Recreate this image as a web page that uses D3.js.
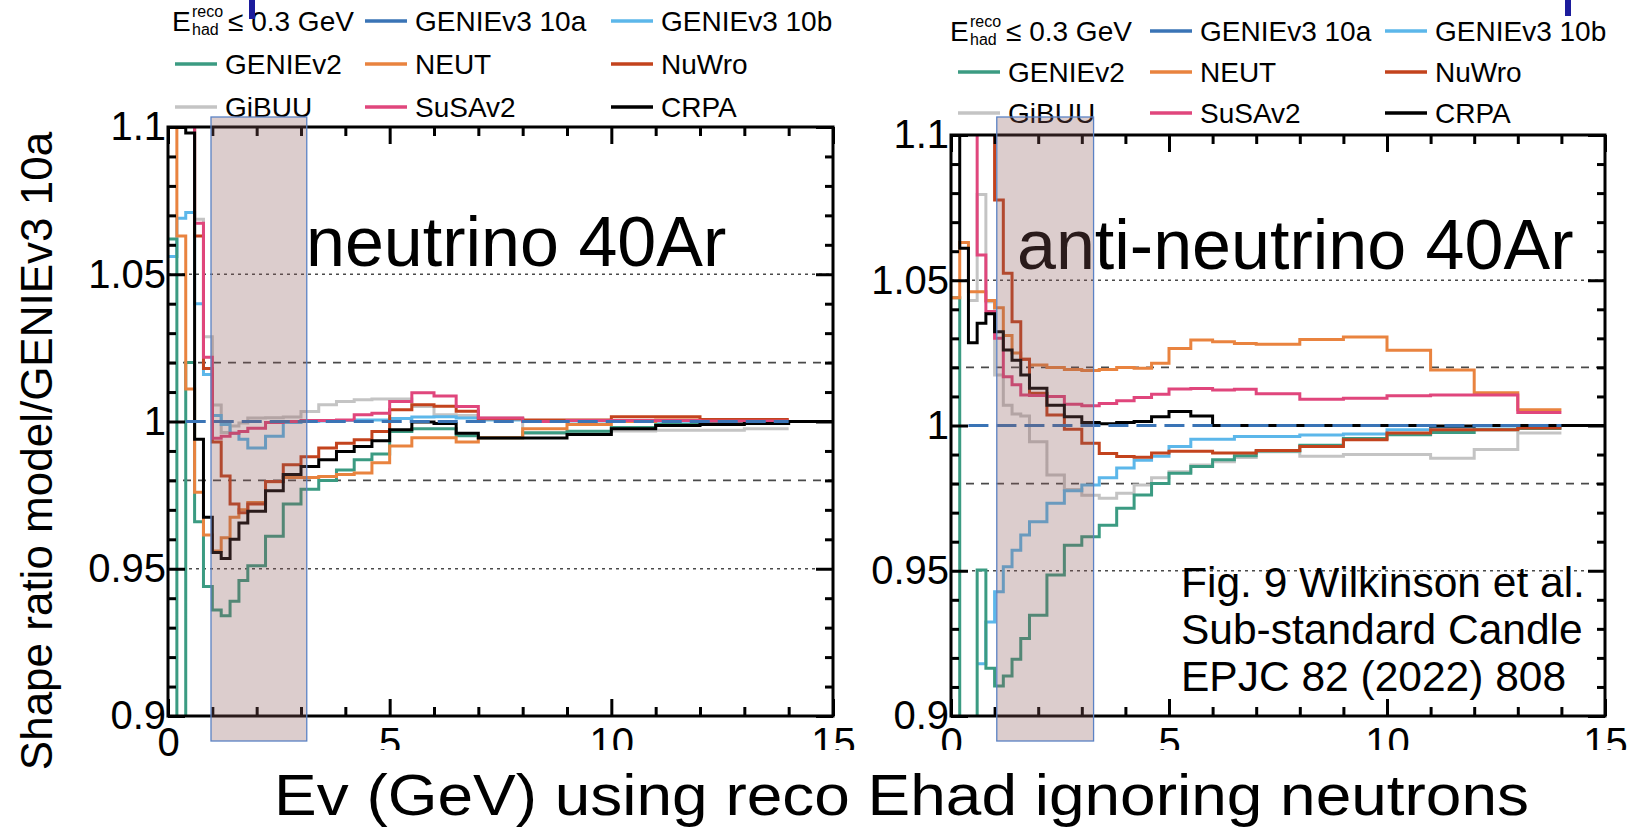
<!DOCTYPE html>
<html>
<head>
<meta charset="utf-8">
<script src="https://cdn.jsdelivr.net/npm/d3@7"></script>
<style>
body { margin: 0; background: #fff; }
svg text { font-family: "Liberation Sans", Arial, sans-serif; fill: #000; }
</style>
</head>
<body>
<svg id="chart"></svg>
<script>
const svgWidth = 1636;
const svgHeight = 831;

// bin edges of the ratio histograms (GeV)
const binEdges = [0, 0.2, 0.4, 0.6, 0.8, 1.0, 1.2, 1.4, 1.6, 1.8, 2.2, 2.6, 3.0, 3.4, 3.8, 4.2, 4.6, 5.0, 5.5, 6.0, 6.5, 7, 8, 9, 10, 11, 12, 13, 14, 15];

const seriesNames = ["GENIEv3 10a", "GENIEv3 10b", "GENIEv2", "NEUT", "NuWro", "GiBUU", "SuSAv2", "CRPA"];
const seriesColors = ["#3a74b6", "#5cb7ea", "#3b9b82", "#e9833f", "#c3431d", "#c4c4c4", "#e0467c", "#000000"];
const drawOrder = ["GiBUU", "GENIEv3 10b", "GENIEv2", "NEUT", "NuWro", "SuSAv2", "CRPA", "GENIEv3 10a"];
const legendRows = [[null, "GENIEv3 10a", "GENIEv3 10b"], ["GENIEv2", "NEUT", "NuWro"], ["GiBUU", "SuSAv2", "CRPA"]];

const yMajorTicks = [0.9, 0.95, 1, 1.05, 1.1];
const yMinorTicks = [0.91, 0.92, 0.93, 0.94, 0.96, 0.97, 0.98, 0.99, 1.01, 1.02, 1.03, 1.04, 1.06, 1.07, 1.08, 1.09];
const xMajorTicks = [0, 5, 10, 15];
const xMinorTicks = [1, 2, 3, 4, 6, 7, 8, 9, 11, 12, 13, 14];
const dottedLevels = [0.95, 1.05];
const dashedLevels = [0.98, 1.02];

// neutrino panel
const nu10a = [null, null, 1, 1, 1, 1, 1, 1, 1, 1, 1, 1, 1, 1, 1, 1, 1, 1, 1, 1, 1, 1, 1, 1, 1, 1, 1, 1];
const nu10b = [1.056, 1.069, 1.071, 1.040, 1.016, 1.002, 0.999, 0.996, 0.994, 0.991, 0.995, 0.9997, 1.000, 1.0002, 1.0003, 1.0005, 1.0005, 1.001, 1.0015, 1.0016, 1.0012, 1.0005, 1.0003, 1.0002, 1.0002, 1.0001, 1.0001, 1.000];
const nuGENIEv2 = [1.062, 0.85, 1.020, 0.966, 0.944, 0.936, 0.934, 0.939, 0.946, 0.951, 0.961, 0.972, 0.977, 0.980, 0.9835, 0.987, 0.989, 0.9966, 0.9975, 0.9975, 0.9952, 0.9945, 0.9962, 0.9967, 0.998, 0.999, 0.9993, 0.9995];
const nuNEUT = [1.15, 1.063, 1.011, 0.976, 0.9615, 0.956, 0.9605, 0.9675, 0.970, 0.9725, 0.9795, 0.981, 0.981, 0.9813, 0.982, 0.9825, 0.986, 0.9917, 0.9945, 0.9945, 0.993, 0.9945, 0.9975, 0.999, 1.000, 1.0005, 1.0005, 1.0006];
const nuNuWro = [1.15, 1.15, 1.15, 1.063, 1.018, 0.993, 0.9815, 0.972, 0.969, 0.972, 0.9796, 0.9853, 0.988, 0.991, 0.9926, 0.9938, 0.9966, 1.004, 1.0057, 1.0052, 1.0035, 1.0009, 1.0005, 1.0005, 1.0016, 1.0016, 1.0007, 1.0007];
const nuGiBUU = [1.15, 1.15, 1.15, 1.0687, 1.0288, 1.0056, 0.9963, 0.9985, 0.9995, 1.0012, 1.0013, 1.0015, 1.0034, 1.0057, 1.0068, 1.0074, 1.0076, 1.0076, 1.0051, 1.0023, 1.002, 1.0012, 0.996, 0.996, 0.9968, 0.997, 0.997, 0.9975];
const nuSuSAv2 = [1.15, 1.15, 1.15, 1.0673, 1.0218, 0.9943, 0.995, 0.996, 0.9966, 0.9977, 0.9997, 1.000, 1.0003, 1.0003, 1.0005, 1.0023, 1.0028, 1.0068, 1.0098, 1.0087, 1.0051, 1.0012, 1.000, 1.0003, 1.0003, 1.0003, 1.0002, 1.0002];
const nuCRPA = [1.15, 1.15, 1.098, 0.994, 0.9675, 0.9555, 0.9535, 0.960, 0.9655, 0.9695, 0.9765, 0.982, 0.9847, 0.987, 0.9898, 0.9915, 0.9935, 0.9972, 0.9998, 0.9993, 0.996, 0.9944, 0.9944, 0.9956, 0.9975, 0.9986, 0.999, 0.9993, 1.000];
const nuBand = [0.97, 3.13];

// anti-neutrino panel
const anu10a = [null, null, 1, 1, 1, 1, 1, 1, 1, 1, 1, 1, 1, 1, 1, 1, 1, 1, 1, 1, 1, 1, 1, 1, 1, 1, 1, 1];
const anu10b = [null, null, null, 0.918, 0.9324, 0.9428, 0.9514, 0.9571, 0.9623, 0.9669, 0.9732, 0.9775, 0.9795, 0.982, 0.9854, 0.988, 0.9894, 0.9928, 0.9953, 0.9953, 0.9962, 0.9962, 0.9967, 0.9971, 0.9985, 0.9995, 0.9998, 0.9999];
const anuGENIEv2 = [1.044, 0.85, 0.85, 0.9503, 0.9164, 0.9103, 0.9138, 0.9195, 0.9267, 0.9347, 0.9485, 0.9588, 0.9617, 0.9657, 0.9715, 0.9761, 0.980, 0.9836, 0.9859, 0.9882, 0.9896, 0.9912, 0.9932, 0.9955, 0.9968, 0.9976, 0.9985, 0.999];
const anuNEUT = [1.044, 1.063, 1.046, 1.046, 1.043, 1.0405, 1.031, 1.025, 1.0228, 1.0208, 1.020, 1.0193, 1.0189, 1.0193, 1.020, 1.0197, 1.0214, 1.0265, 1.0294, 1.0288, 1.0282, 1.028, 1.0296, 1.0305, 1.0259, 1.0191, 1.0113, 1.0054];
const anuNuWro = [1.15, 1.15, 1.15, 1.15, 1.15, 1.0776, 1.0524, 1.0357, 1.0228, 1.0111, 1.0036, 0.9987, 0.9939, 0.9904, 0.9893, 0.9891, 0.9905, 0.9911, 0.9911, 0.9905, 0.9905, 0.9914, 0.9928, 0.9951, 0.9974, 0.9985, 0.9985, 0.9991];
const anuGiBUU = [null, null, 1.043, 1.0795, 1.0426, 1.0174, 1.007, 1.004, 1.0033, 0.9944, 0.983, 0.978, 0.976, 0.975, 0.9767, 0.9795, 0.982, 0.9841, 0.9864, 0.9875, 0.989, 0.991, 0.9894, 0.990, 0.990, 0.9887, 0.9917, 0.9974];
const anuSuSAv2 = [1.15, 1.15, 1.15, 1.0587, 1.0392, 1.030, 1.0168, 1.014, 1.0105, 1.0103, 1.010, 1.0073, 1.0068, 1.0076, 1.0085, 1.0096, 1.0108, 1.0126, 1.0127, 1.0122, 1.0125, 1.0109, 1.009, 1.0094, 1.0102, 1.0105, 1.0105, 1.0045];
const anuCRPA = [1.15, 1.061, 1.0285, 1.0352, 1.0385, 1.0323, 1.026, 1.0225, 1.0174, 1.0128, 1.007, 1.003, 1.001, 1.0006, 1.001, 1.0014, 1.003, 1.0048, 1.0033, 1.000, 1.000, 1.000, 1.000, 1.000, 1.000, 0.9998, 1.000, 1.000, 1.000];
const anuBand = [1.05, 3.27];

const panels = [
    {
        id: "nu", title: "neutrino 40Ar", band: nuBand,
        series: [nu10a, nu10b, nuGENIEv2, nuNEUT, nuNuWro, nuGiBUU, nuSuSAv2, nuCRPA],
        xRange: [168, 833], yRange: [716, 127], titleX: 306, titleY: 266,
        legendX: [175, 365, 611], legendY: [31, 74, 117], eX: 172
    },
    {
        id: "anu", title: "anti-neutrino 40Ar", band: anuBand,
        series: [anu10a, anu10b, anuGENIEv2, anuNEUT, anuNuWro, anuGiBUU, anuSuSAv2, anuCRPA],
        xRange: [951, 1605], yRange: [716, 135], titleX: 1017, titleY: 269,
        legendX: [958, 1150, 1385], legendY: [41, 82, 123], eX: 950
    }
];

var svg = d3.select("#chart")
    .attr("width", svgWidth)
    .attr("height", svgHeight);

var colorOf = d3.scaleOrdinal().domain(seriesNames).range(seriesColors);

function histPoints(values) {
    var pts = values.map(function(v, i) { return { e: binEdges[i], v: v }; });
    pts.push({ e: binEdges[values.length], v: values[values.length - 1] });
    return pts;
}

function drawPanel(p) {
    var x = d3.scaleLinear().domain([0, 15]).range(p.xRange);
    var y = d3.scaleLinear().domain([0.9, 1.1]).range(p.yRange);
    var g = svg.append("g").attr("class", "panel-" + p.id);

    g.append("clipPath").attr("id", "clip-" + p.id)
        .append("rect")
        .attr("x", x(0)).attr("y", y(1.1))
        .attr("width", x(15) - x(0)).attr("height", y(0.9) - y(1.1));

    // reference lines
    g.selectAll(".dotted").data(dottedLevels).enter().append("line")
        .attr("x1", x(0)).attr("x2", x(15))
        .attr("y1", d => y(d)).attr("y2", d => y(d))
        .attr("stroke", "#4a4a4a").attr("stroke-width", 1.6)
        .attr("stroke-dasharray", "3,4");
    g.selectAll(".dashed").data(dashedLevels).enter().append("line")
        .attr("x1", x(0)).attr("x2", x(15))
        .attr("y1", d => y(d)).attr("y2", d => y(d))
        .attr("stroke", "#4a4a4a").attr("stroke-width", 1.8)
        .attr("stroke-dasharray", "8,7");

    var line = d3.line()
        .defined(d => d.v !== null)
        .x(d => x(d.e))
        .y(d => y(d.v))
        .curve(d3.curveStepAfter);

    var lines = g.append("g").attr("clip-path", "url(#clip-" + p.id + ")");
    drawOrder.forEach(function(name) {
        var vals = p.series[seriesNames.indexOf(name)];
        lines.append("path")
            .datum(histPoints(vals))
            .attr("d", line)
            .attr("fill", "none")
            .attr("stroke", colorOf(name))
            .attr("stroke-width", 3)
            .attr("stroke-dasharray", name === "GENIEv3 10a" ? "20,8" : null);
    });

    // frame and inward ticks
    function addAxis(axis, transform, size) {
        var a = g.append("g").attr("transform", transform).call(axis);
        a.select(".domain").remove();
        a.selectAll(".tick line").attr("stroke", "#000").attr("stroke-width", 3);
        a.selectAll("text").attr("font-size", size || 40).attr("fill", "#000");
        return a;
    }
    var fmt = d3.format("~g");
    addAxis(d3.axisLeft(y).tickValues(yMajorTicks).tickSizeInner(-17).tickSizeOuter(0).tickPadding(2).tickFormat(fmt), "translate(" + x(0) + ",0)");
    addAxis(d3.axisLeft(y).tickValues(yMinorTicks).tickSizeInner(-8).tickSizeOuter(0).tickFormat(""), "translate(" + x(0) + ",0)");
    addAxis(d3.axisRight(y).tickValues(yMajorTicks).tickSizeInner(-17).tickSizeOuter(0).tickFormat(""), "translate(" + x(15) + ",0)");
    addAxis(d3.axisRight(y).tickValues(yMinorTicks).tickSizeInner(-8).tickSizeOuter(0).tickFormat(""), "translate(" + x(15) + ",0)");
    addAxis(d3.axisBottom(x).tickValues(xMajorTicks).tickSizeInner(-17).tickSizeOuter(0).tickPadding(12).tickFormat(fmt), "translate(0," + y(0.9) + ")");
    addAxis(d3.axisBottom(x).tickValues(xMinorTicks).tickSizeInner(-9).tickSizeOuter(0).tickFormat(""), "translate(0," + y(0.9) + ")");
    addAxis(d3.axisTop(x).tickValues(xMajorTicks).tickSizeInner(-17).tickSizeOuter(0).tickFormat(""), "translate(0," + y(1.1) + ")");
    addAxis(d3.axisTop(x).tickValues(xMinorTicks).tickSizeInner(-9).tickSizeOuter(0).tickFormat(""), "translate(0," + y(1.1) + ")");

    g.append("rect")
        .attr("x", x(0)).attr("y", y(1.1))
        .attr("width", x(15) - x(0)).attr("height", y(0.9) - y(1.1))
        .attr("fill", "none").attr("stroke", "#000").attr("stroke-width", 3);

    g.append("text")
        .attr("x", p.titleX).attr("y", p.titleY)
        .attr("font-size", 70)
        .text(p.title);

    // legend
    legendRows.forEach(function(row, r) {
        row.forEach(function(name, c) {
            if (name === null) return;
            var lx = p.legendX[c], ly = p.legendY[r];
            g.append("line")
                .attr("x1", lx).attr("x2", lx + 42)
                .attr("y1", ly - 10).attr("y2", ly - 10)
                .attr("stroke", colorOf(name)).attr("stroke-width", 3.5);
            g.append("text")
                .attr("x", lx + 50).attr("y", ly)
                .attr("font-size", 28)
                .text(name);
        });
    });
    var ey = p.legendY[0];
    g.append("text").attr("x", p.eX).attr("y", ey).attr("font-size", 28).text("E");
    g.append("text").attr("x", p.eX + 20).attr("y", ey - 14).attr("font-size", 16).text("reco");
    g.append("text").attr("x", p.eX + 20).attr("y", ey + 4).attr("font-size", 16).text("had");
    g.append("text").attr("x", p.eX + 56).attr("y", ey).attr("font-size", 28).text("\u2264 0.3 GeV");

    return { x: x, y: y, g: g };
}

var drawn = panels.map(drawPanel);

// text overlay for the right panel
const figLines = ["Fig. 9 Wilkinson et al.", "Sub-standard Candle", "EPJC 82 (2022) 808"];
svg.append("g").selectAll("text").data(figLines).enter().append("text")
    .attr("x", 1181)
    .attr("y", (d, i) => 597 + i * 47)
    .attr("font-size", 42.5)
    .text(d => d);

// axis titles (the x title box hides the lower part of the tick labels)
svg.append("rect")
    .attr("x", 245).attr("y", 750)
    .attr("width", svgWidth - 245).attr("height", svgHeight - 750)
    .attr("fill", "#fff");
svg.append("text")
    .attr("x", 274).attr("y", 815)
    .attr("font-size", 58)
    .attr("textLength", 1255)
    .attr("lengthAdjust", "spacingAndGlyphs")
    .text("Ev (GeV) using reco Ehad ignoring neutrons");
svg.append("text")
    .attr("transform", "translate(52,451) rotate(-90)")
    .attr("text-anchor", "middle")
    .attr("font-size", 44)
    .text("Shape ratio model/GENIEv3 10a");

// highlighted energy bands drawn over the curves
panels.forEach(function(p, i) {
    var x = drawn[i].x;
    svg.append("rect")
        .attr("x", x(p.band[0])).attr("y", 117)
        .attr("width", x(p.band[1]) - x(p.band[0])).attr("height", 741 - 117)
        .attr("fill", "rgb(140,88,88)").attr("fill-opacity", 0.3)
        .attr("stroke", "#5b82c4").attr("stroke-width", 1.3);
});

// small marks cut at the top edge
svg.append("rect").attr("x", 249).attr("y", 0).attr("width", 6).attr("height", 19).attr("fill", "#1c1c9c");
svg.append("rect").attr("x", 1565).attr("y", 0).attr("width", 6).attr("height", 16).attr("fill", "#1c1c9c");
</script>
</body>
</html>
